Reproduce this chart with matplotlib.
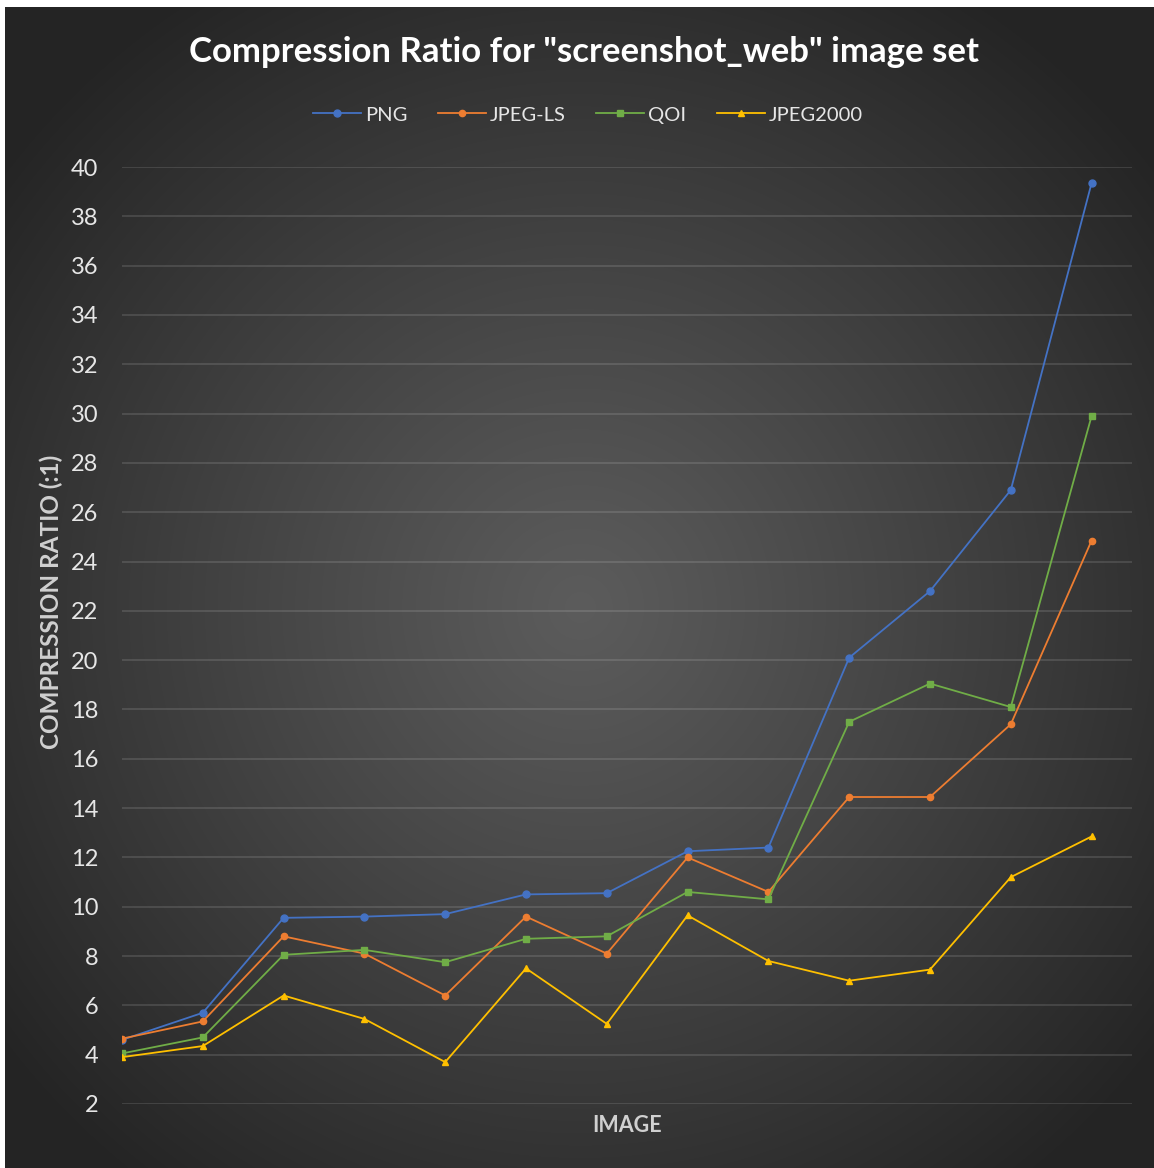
import numpy as np
import matplotlib
matplotlib.use("Agg")
import matplotlib.pyplot as plt

# data
images = list(range(13))
png = [4.6, 5.7, 9.55, 9.6, 9.7, 10.5, 10.55, 12.25, 12.4, 20.1, 22.8, 26.9, 39.35]
jpeg_ls = [4.65, 5.35, 8.8, 8.1, 6.4, 9.6, 8.1, 12.0, 10.6, 14.45, 14.45, 17.4, 24.85]
qoi = [4.05, 4.7, 8.05, 8.25, 7.75, 8.7, 8.8, 10.6, 10.3, 17.5, 19.05, 18.1, 29.9]
jpeg2000 = [3.9, 4.35, 6.4, 5.45, 3.7, 7.5, 5.25, 9.65, 7.8, 7.0, 7.45, 11.2, 12.85]
y_ticks = list(range(2, 41, 2))

plt.rcParams['font.family'] = ['Lato', 'DejaVu Sans']

W, H = 1154, 1168
fig = plt.figure(figsize=(W / 100, H / 100), dpi=100)
fig.patch.set_facecolor('white')

# radial gradient background
bg = fig.add_axes([5 / W, 0, 1 - 5 / W, 1 - 7 / H])
bg.set_axis_off()
yy, xx = np.mgrid[0:H - 7, 0:W - 5]
r = np.hypot(xx - 575, yy - 600) / 720.0
v = 0.36 - (0.36 - 0.145) * np.clip(r, 0, 1) ** 1.1
bg.imshow(np.dstack([v, v, v]), aspect='auto', extent=[0, 1, 0, 1])

ax = fig.add_axes([122 / W, 1 - 1104 / H, (1132 - 122) / W, (1104 - 167) / H])
ax.patch.set_alpha(0)

ax.plot(images, png, color='#4472C4', marker='o', markersize=5, lw=1.3, label='PNG')
ax.plot(images, jpeg_ls, color='#ED7D31', marker='o', markersize=4.5, lw=1.3, label='JPEG-LS')
ax.plot(images, qoi, color='#70AD47', marker='s', markersize=4.5, lw=1.3, label='QOI')
ax.plot(images, jpeg2000, color='#FFC000', marker='^', markersize=5, lw=1.3, label='JPEG2000')

ax.set_xlim(0, 12.5)
ax.set_ylim(2, 40)
ax.set_yticks(y_ticks)
ax.set_xticks([])
ax.grid(axis='y', color='white', alpha=0.14, lw=1.2)
ax.set_axisbelow(True)
for s in ax.spines.values():
    s.set_visible(False)
ax.tick_params(axis='y', length=0, labelsize=17, labelcolor='#e6e6e6', pad=17)

ax.set_xlabel('IMAGE', fontsize=15.5, fontweight='bold', color='#d0d0d0', labelpad=8)
ax.set_ylabel('COMPRESSION RATIO (:1)', fontsize=17.5, fontweight='bold', color='#d0d0d0')
ax.yaxis.set_label_coords(-0.058, 0.536)

fig.text(0.506, 1 - 52 / H, 'Compression Ratio for "screenshot_web" image set',
         ha='center', va='center', fontsize=25, fontweight='bold', color='white')

leg = ax.legend(loc='center', bbox_to_anchor=(588 / W, 1 - 115 / H), bbox_transform=fig.transFigure,
                ncol=4, frameon=False, fontsize=14.5, labelcolor='#e6e6e6',
                handlelength=2.4, columnspacing=1.5, handletextpad=0.2)

fig.savefig('out.png', dpi=100, facecolor=fig.get_facecolor())
